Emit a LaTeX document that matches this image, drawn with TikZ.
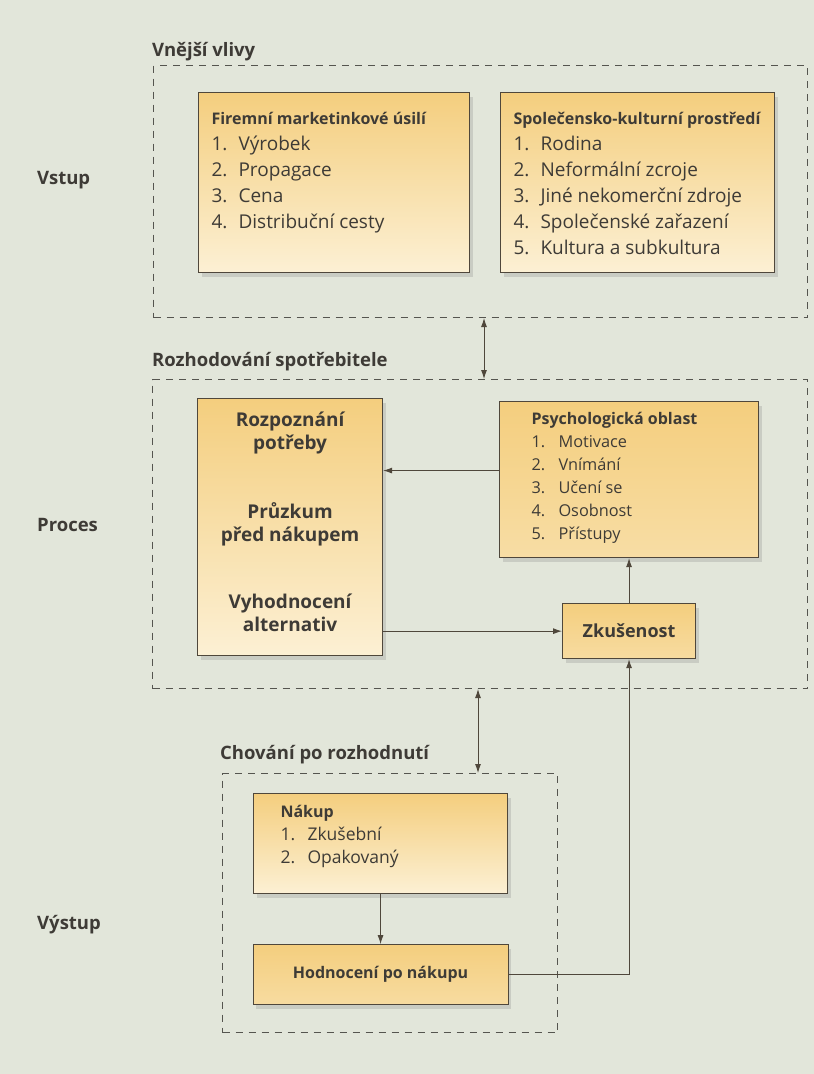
\documentclass[tikz,border=0pt]{standalone}
\usepackage{fontspec}
\setmainfont{Open Sans}
\usepackage{xcolor}
\usetikzlibrary{positioning,shadows,arrows.meta}
\definecolor{paper}{HTML}{E2E6DA}
\definecolor{boxtop}{HTML}{F4CE7E}
\definecolor{boxbot}{HTML}{FCF0D4}
\definecolor{boxline}{HTML}{4F473B}
\definecolor{ink}{HTML}{3E3B36}
\definecolor{dashline}{HTML}{55554F}

% numbered line inside a box
\newcommand{\itm}[2]{\makebox[27pt][l]{#1}#2}
% top aligned box text: width, height, font size, line distance, text
\newcommand{\topbox}[5]{\parbox[c][#2][t]{#1}{\fontsize{#3}{#4}\selectfont\raggedright #5}}
\newcommand{\boxhead}[1]{\mbox{\fontsize{16}{20}\selectfont\bfseries #1}}

\begin{document}
\begin{tikzpicture}[
    x=1pt, y=-1pt,
    >={Latex[length=9pt,width=6pt]},
    region/.style={draw=dashline,line width=1pt,dash pattern=on 7pt off 6pt,anchor=north west,inner sep=0pt},
    factor/.style={draw=boxline,line width=1.1pt,top color=boxtop,bottom color=boxbot,anchor=north west,inner sep=0pt,text=ink,
      drop shadow={shadow xshift=3pt,shadow yshift=-4pt,opacity=0.25}},
    grouplabel/.style={anchor=west,inner sep=0pt,font=\fontsize{18.5}{22}\selectfont\bfseries,text=ink},
    link/.style={draw=boxline,line width=0.9pt,->}
  ]
    \useasboundingbox (0,0) rectangle (814,1074);
    \fill[paper] (0,0) rectangle (814,1074);

    % dashed areas
    \node[region,minimum width=654pt,minimum height=252pt] (vliv) at (153,65) {};
    \node[region,minimum width=655pt,minimum height=309pt] (rozh) at (152,379) {};
    \node[region,minimum width=335pt,minimum height=259pt] (chov) at (222,773) {};

    \node[grouplabel] (vlivtxt) at (152,52) {Vnější vlivy};
    \node[grouplabel] (rozhtxt) at (152,362) {Rozhodování spotřebitele};
    \node[grouplabel] (chovtxt) at (220,755) {Chování po rozhodnutí};

    \node[grouplabel] (vstup) at (37,180) {Vstup};
    \node[grouplabel] (proces) at (37,525) {Proces};
    \node[grouplabel] (vystup) at (37,925) {Výstup};

    % input
    \node[factor,inner xsep=13pt,inner ysep=20pt] (firma) at (198,92)
      {\topbox{245pt}{140pt}{19}{26pt}{\boxhead{Firemní marketinkové úsilí}\\
        \itm{1.}{Výrobek}\\ \itm{2.}{Propagace}\\ \itm{3.}{Cena}\\ \itm{4.}{Distribuční cesty}}};
    \node[factor,inner xsep=13pt,inner ysep=20pt] (okoli) at (500,92)
      {\topbox{248pt}{140pt}{19}{26pt}{\boxhead{Společensko-kulturní prostředí}\\
        \itm{1.}{Rodina}\\ \itm{2.}{Neformální zcroje}\\ \itm{3.}{Jiné nekomerční zdroje}\\
        \itm{4.}{Společenské zařazení}\\ \itm{5.}{Kultura a subkultura}}};

    % process
    \node[factor,inner xsep=10pt,inner ysep=13pt] (rozp) at (197,398)
      {\parbox[c][231pt][t]{165pt}{\fontsize{19}{23}\selectfont\centering\bfseries
        Rozpoznání\\ potřeby\\[46pt] Průzkum\\ před nákupem\\[44pt] Vyhodnocení\\ alternativ}};
    \node[factor,inner xsep=32pt,inner ysep=11pt,bottom color=boxtop!55!boxbot] (psych) at (499,401)
      {\topbox{195pt}{134pt}{16.3}{23pt}{\boxhead{Psychologická oblast}\\
        \itm{1.}{Motivace}\\ \itm{2.}{Vnímání}\\ \itm{3.}{Učení se}\\ \itm{4.}{Osobnost}\\ \itm{5.}{Přístupy}}};
    \node[factor,below=45pt of psych,minimum width=133pt,minimum height=55pt,bottom color=boxtop!60!boxbot,
      font=\fontsize{18}{22}\selectfont\bfseries] (zk) {Zkušenost};

    % output
    \node[factor,inner xsep=27pt,inner ysep=12pt] (nakup) at (253,793)
      {\topbox{200pt}{76pt}{17.5}{23pt}{\boxhead{Nákup}\\ \itm{1.}{Zkušební}\\ \itm{2.}{Opakovaný}}};
    \node[factor,below=50pt of nakup,minimum width=255pt,minimum height=60pt,bottom color=boxtop!60!boxbot,
      font=\fontsize{16}{20}\selectfont\bfseries] (hodn) {Hodnocení po nákupu};

    \coordinate (da1) at (484,0);
    \coordinate (da2) at (478,0);

    \draw[link,<->] (vliv.south -| da1) -- (rozh.north -| da1);
    \draw[link,<->] (rozh.south -| da2) -- (chov.north -| da2);
    \draw[link] ([yshift=9pt]psych.west) -- ([yshift=9pt]psych.west -| rozp.east);
    \draw[link] (rozp.east |- zk.west) -- (zk.west);
    \draw[link] (zk.north) -- (zk.north |- psych.south);
    \draw[link] (nakup.south) -- (hodn.north);
    \draw[link] (hodn.east) -| (zk.south);
\end{tikzpicture}
\end{document}
